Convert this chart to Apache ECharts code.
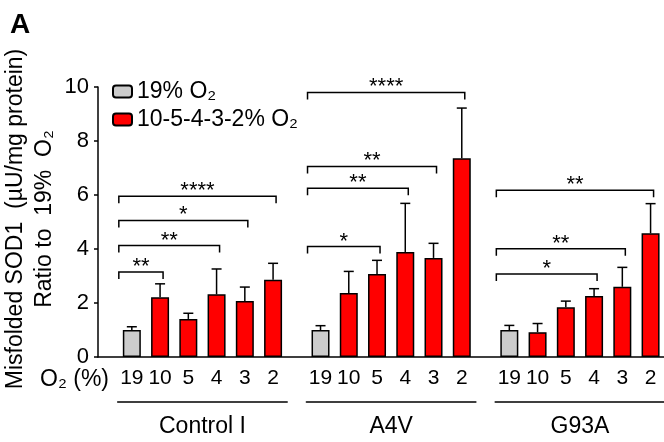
<!DOCTYPE html>
<html>
<head>
<meta charset="utf-8">
<script src="https://cdn.jsdelivr.net/npm/echarts@6/dist/echarts.min.js"></script>
<style>
  html, body { margin: 0; padding: 0; background: #fff; }
  #chart { width: 664px; height: 442px; }
</style>
</head>
<body>
<div id="chart"></div>
<script>
  const o2Levels = ['19', '10', '5', '4', '3', '2'];
  const groupNames = ['Control I', 'A4V', 'G93A'];
  const controlMean = [1.0, 2.21, 1.41, 2.32, 2.07, 2.86];
  const controlErr = [0.12, 0.50, 0.21, 0.94, 0.52, 0.61];
  const a4vMean = [1.0, 2.37, 3.07, 3.89, 3.67, 7.36];
  const a4vErr = [0.16, 0.80, 0.51, 1.80, 0.54, 1.86];
  const g93aMean = [1.0, 0.92, 1.84, 2.26, 2.60, 4.58];
  const g93aErr = [0.17, 0.32, 0.23, 0.27, 0.72, 1.10];
  // significance brackets: [from bar, to bar, height, stars]
  const controlSig = [[0, 1, 3.15, '**'], [0, 3, 4.13, '**'], [0, 4, 5.06, '*'], [0, 5, 5.95, '****']];
  const a4vSig = [[0, 2, 4.09, '*'], [0, 3, 6.25, '**'], [0, 4, 7.06, '**'], [0, 5, 9.8, '****']];
  const g93aSig = [[0, 3, 3.07, '*'], [0, 4, 4.01, '**'], [0, 5, 6.18, '**']];

  const FONT = '"Liberation Sans", Arial, sans-serif';
  const groups = [
    { name: groupNames[0], mean: controlMean, err: controlErr, sig: controlSig },
    { name: groupNames[1], mean: a4vMean, err: a4vErr, sig: a4vSig },
    { name: groupNames[2], mean: g93aMean, err: g93aErr, sig: g93aSig }
  ];
  const gridLefts = [117.7, 306.4, 495.2];
  const gridWidth = 169.5;

  function errorItem(params, api) {
    const base = api.coord([api.value(0), api.value(1)]);
    const top = api.coord([api.value(0), api.value(1) + api.value(2)]);
    const st = { stroke: '#000', lineWidth: 1.5 };
    return {
      type: 'group',
      children: [
        { type: 'line', shape: { x1: base[0], y1: base[1], x2: top[0], y2: top[1] }, style: st },
        { type: 'line', shape: { x1: top[0] - 5, y1: top[1], x2: top[0] + 5, y2: top[1] }, style: st }
      ]
    };
  }

  function bracketRenderer(sig) {
    return function (params, api) {
      const s = sig[params.dataIndex];
      const a = api.coord([s[0], s[2]]);
      const b = api.coord([s[1], s[2]]);
      const x1 = a[0] - 13, x2 = b[0] + 3, y = a[1];
      return {
        type: 'group',
        children: [
          {
            type: 'polyline',
            shape: { points: [[x1, y + 7], [x1, y], [x2, y], [x2, y + 7]] },
            style: { stroke: '#000', fill: null, lineWidth: 1.5 }
          },
          {
            type: 'text', x: (x1 + x2) / 2, y: y - 5,
            style: { text: s[3], fill: '#000', font: '22px ' + FONT, align: 'center', verticalAlign: 'middle' }
          }
        ]
      };
    };
  }

  const grid = [{ left: 98, top: 87, right: 0, height: 270, outerBoundsMode: 'none' }];
  const xAxis = [{
    gridIndex: 0, type: 'value', min: 0, max: 1,
    axisLine: { show: true, lineStyle: { color: '#000', width: 1.5 } },
    axisTick: { show: false }, axisLabel: { show: false }, splitLine: { show: false }
  }];
  const yAxis = [{
    gridIndex: 0, type: 'value', min: 0, max: 10, interval: 2,
    axisLine: { show: true, lineStyle: { color: '#000', width: 1.5 } },
    axisTick: { show: true, length: 4, lineStyle: { color: '#000', width: 1.5 } },
    axisLabel: { fontSize: 22, color: '#000', margin: 9, fontFamily: FONT },
    splitLine: { show: false }
  }];
  const series = [];

  groups.forEach(function (g, k) {
    const gi = k + 1;
    grid.push({ left: gridLefts[k], top: 87, width: gridWidth, height: 270, outerBoundsMode: 'none' });
    xAxis.push({
      gridIndex: gi, type: 'category', data: o2Levels,
      axisLine: { show: false }, axisTick: { show: false },
      axisLabel: { fontSize: 21, color: '#000', margin: 11, fontFamily: FONT, interval: 0 }
    });
    xAxis.push({
      gridIndex: gi, type: 'category', data: o2Levels, position: 'bottom', offset: 45,
      axisLine: { show: true, lineStyle: { color: '#000', width: 1.5 } },
      axisTick: { show: false }, axisLabel: { show: false },
      name: g.name, nameLocation: 'middle', nameGap: 13,
      nameTextStyle: { fontSize: 23, color: '#000', fontFamily: FONT }
    });
    yAxis.push({ gridIndex: gi, type: 'value', min: 0, max: 10, show: false });
    const xi = 1 + 2 * k;
    series.push({
      name: '19% O₂', type: 'bar', xAxisIndex: xi, yAxisIndex: gi, stack: 'g' + k,
      barWidth: 18,
      itemStyle: { color: '#cccccc', borderColor: '#000', borderWidth: 1.5 },
      data: g.mean.map(function (v, i) { return i === 0 ? v : '-'; })
    });
    series.push({
      name: '10-5-4-3-2% O₂', type: 'bar', xAxisIndex: xi, yAxisIndex: gi, stack: 'g' + k,
      barWidth: 18,
      itemStyle: { color: '#ff0000', borderColor: '#000', borderWidth: 1.5 },
      data: g.mean.map(function (v, i) { return i === 0 ? '-' : v; })
    });
    series.push({
      type: 'custom', xAxisIndex: xi, yAxisIndex: gi, renderItem: errorItem,
      encode: { x: 0, y: 1 }, silent: true, z: 5,
      data: g.mean.map(function (v, i) { return [i, v, g.err[i]]; })
    });
    series.push({
      type: 'custom', xAxisIndex: xi, yAxisIndex: gi, renderItem: bracketRenderer(g.sig),
      encode: { x: 0, y: 1 }, silent: true, z: 5,
      data: g.sig.map(function (s) { return [s[0], s[2]]; })
    });
  });

  const chart = echarts.init(document.getElementById('chart'));
  chart.setOption({
    animation: false,
    backgroundColor: '#fff',
    textStyle: { fontFamily: FONT },
    title: {
      text: 'A', left: 5, top: 6,
      textStyle: { fontSize: 28, fontWeight: 'bold', color: '#000', fontFamily: FONT }
    },
    legend: {
      data: ['19% O₂', '10-5-4-3-2% O₂'],
      orient: 'vertical', left: 112, top: 80, padding: 0,
      itemWidth: 19, itemHeight: 12, itemGap: 5,
      textStyle: { fontSize: 23, color: '#000', fontFamily: FONT }
    },
    grid: grid,
    xAxis: xAxis,
    yAxis: yAxis,
    series: series,
    graphic: [
      {
        type: 'text', x: 30.5, y: 219, rotation: Math.PI / 2,
        style: {
          text: 'Misfolded SOD1  (µU/mg protein)\nRatio to  19%  O₂',
          fill: '#000', font: '23px ' + FONT, align: 'center', verticalAlign: 'middle', lineHeight: 29
        }
      },
      {
        type: 'text', x: 109, y: 380,
        style: { text: 'O₂ (%)', fill: '#000', font: '23px ' + FONT, align: 'right', verticalAlign: 'middle' }
      }
    ]
  });
</script>
</body>
</html>
